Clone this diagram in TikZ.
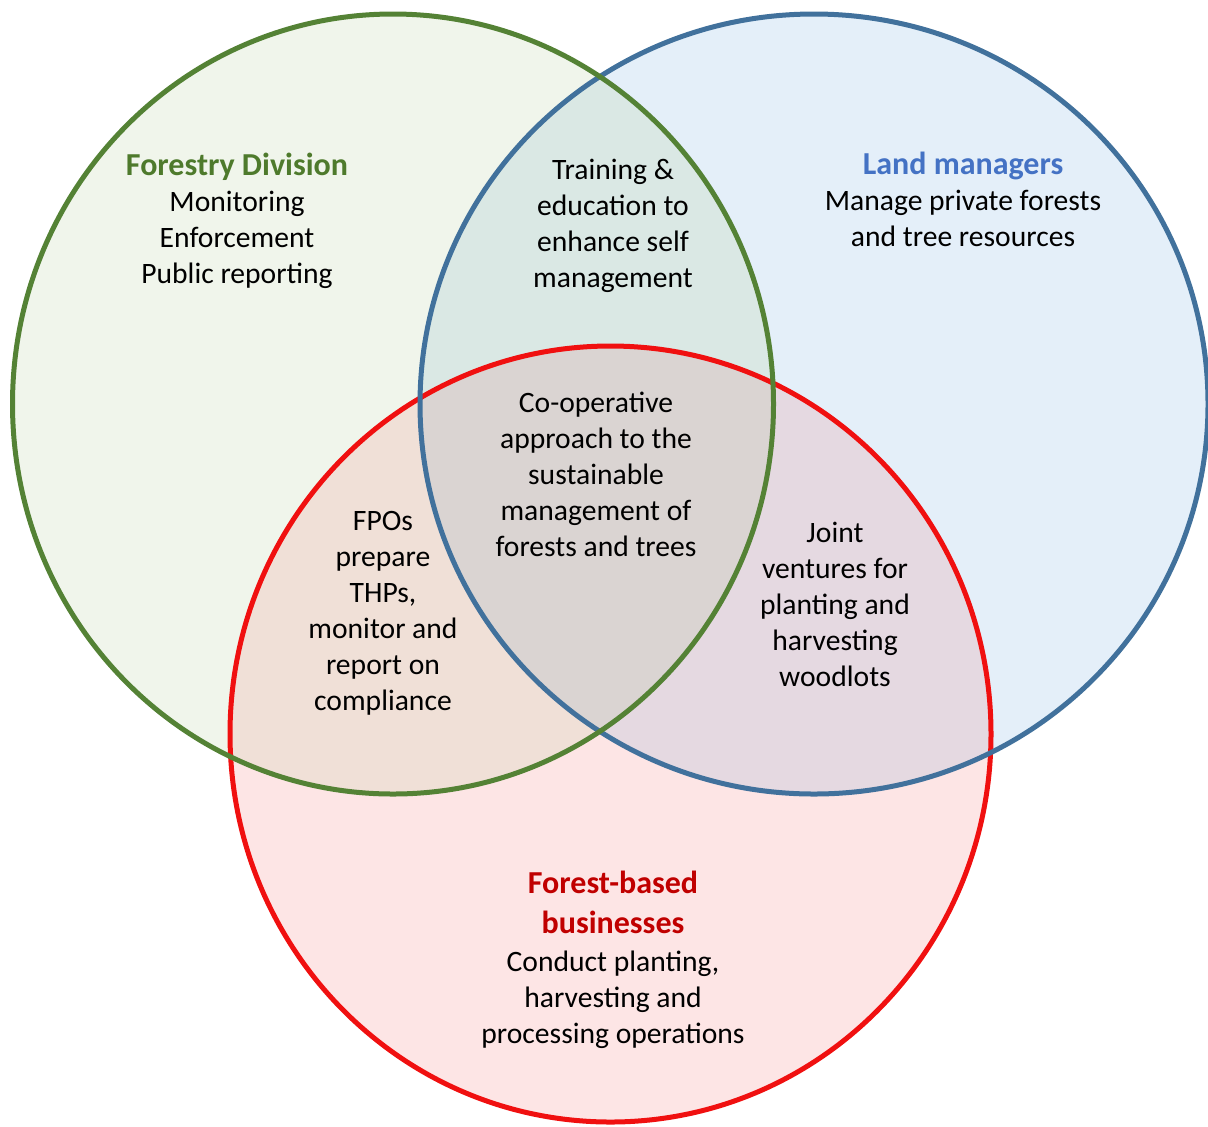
\documentclass[tikz,border=0pt]{standalone}
\usepackage{fontspec}
\setmainfont{Carlito}

\definecolor{fdLine}{HTML}{548235}
\definecolor{fdFill}{HTML}{F0F5EB}
\definecolor{fdText}{HTML}{4E7A2C}
\definecolor{lmLine}{HTML}{41719C}
\definecolor{lmFill}{HTML}{E4EFF9}
\definecolor{lmText}{HTML}{4472C4}
\definecolor{fbLine}{HTML}{F01010}
\definecolor{fbFill}{HTML}{FDE5E5}
\definecolor{fbText}{HTML}{C00000}
\definecolor{fdlmFill}{HTML}{DAE8E4}
\definecolor{fdfbFill}{HTML}{F0E0D7}
\definecolor{lmfbFill}{HTML}{E5D9E1}
\definecolor{allFill}{HTML}{DAD4D2}

\tikzset{
  ring/.style={line width=2.5pt},
  txt/.style={align=center,inner sep=0pt,font=\fontsize{14.8}{18}\selectfont},
}
\newcommand{\head}{\fontsize{16}{18}\selectfont\bfseries}
\newcommand{\fdpath}{(393,404) ellipse [x radius=380.5,y radius=390]}
\newcommand{\lmpath}{(814,404) ellipse [x radius=394,y radius=390]}
\newcommand{\fbpath}{(610.5,734) ellipse [x radius=380.5,y radius=388]}

\begin{document}
\begin{tikzpicture}[x=0.5pt,y=-0.5pt]

\useasboundingbox (0,0) rectangle (1208,1126);

% Fills
\fill[fdFill] \fdpath;
\fill[lmFill] \lmpath;
\fill[fbFill] \fbpath;
\begin{scope}
\clip \fdpath;
\fill[fdlmFill] \lmpath;
\fill[fdfbFill] \fbpath;
\clip \lmpath;
\fill[allFill] \fbpath;
\end{scope}
\begin{scope}
\clip \lmpath;
\clip \fbpath;
\fill[lmfbFill] (0,0) rectangle (1208,1126);
\clip \fdpath;
\fill[allFill] (0,0) rectangle (1208,1126);
\end{scope}

% Outlines
\draw[ring,fbLine] \fbpath;
\draw[ring,lmLine] \lmpath;
\draw[ring,fdLine] \fdpath;

% Groups
\node[txt] (fd) at (237,221) {{\head\color{fdText}Forestry Division}\\Monitoring\\Enforcement\\Public reporting};
\node[txt] (lm) at (963,199) {{\head\color{lmText}Land managers}\\Manage private forests\\and tree resources};
\node[txt] (fb) at (613,960) {{\head\color{fbText}Forest-based}\\[2pt]{\head\color{fbText}businesses}\\[1pt]Conduct planting,\\harvesting and\\processing operations};

% Overlaps
\node[txt] (tr) at (613,226) {Training \&\\education to\\enhance self\\management};
\node[txt] (fpo) at (383,613) {FPOs\\prepare\\THPs,\\monitor and\\report on\\compliance};
\node[txt] (jv) at (835,604) {Joint\\ventures for\\planting and\\harvesting\\woodlots};
\node[txt] (co) at (596,474) {Co-operative\\approach to the\\sustainable\\management of\\forests and trees};

\end{tikzpicture}
\end{document}
